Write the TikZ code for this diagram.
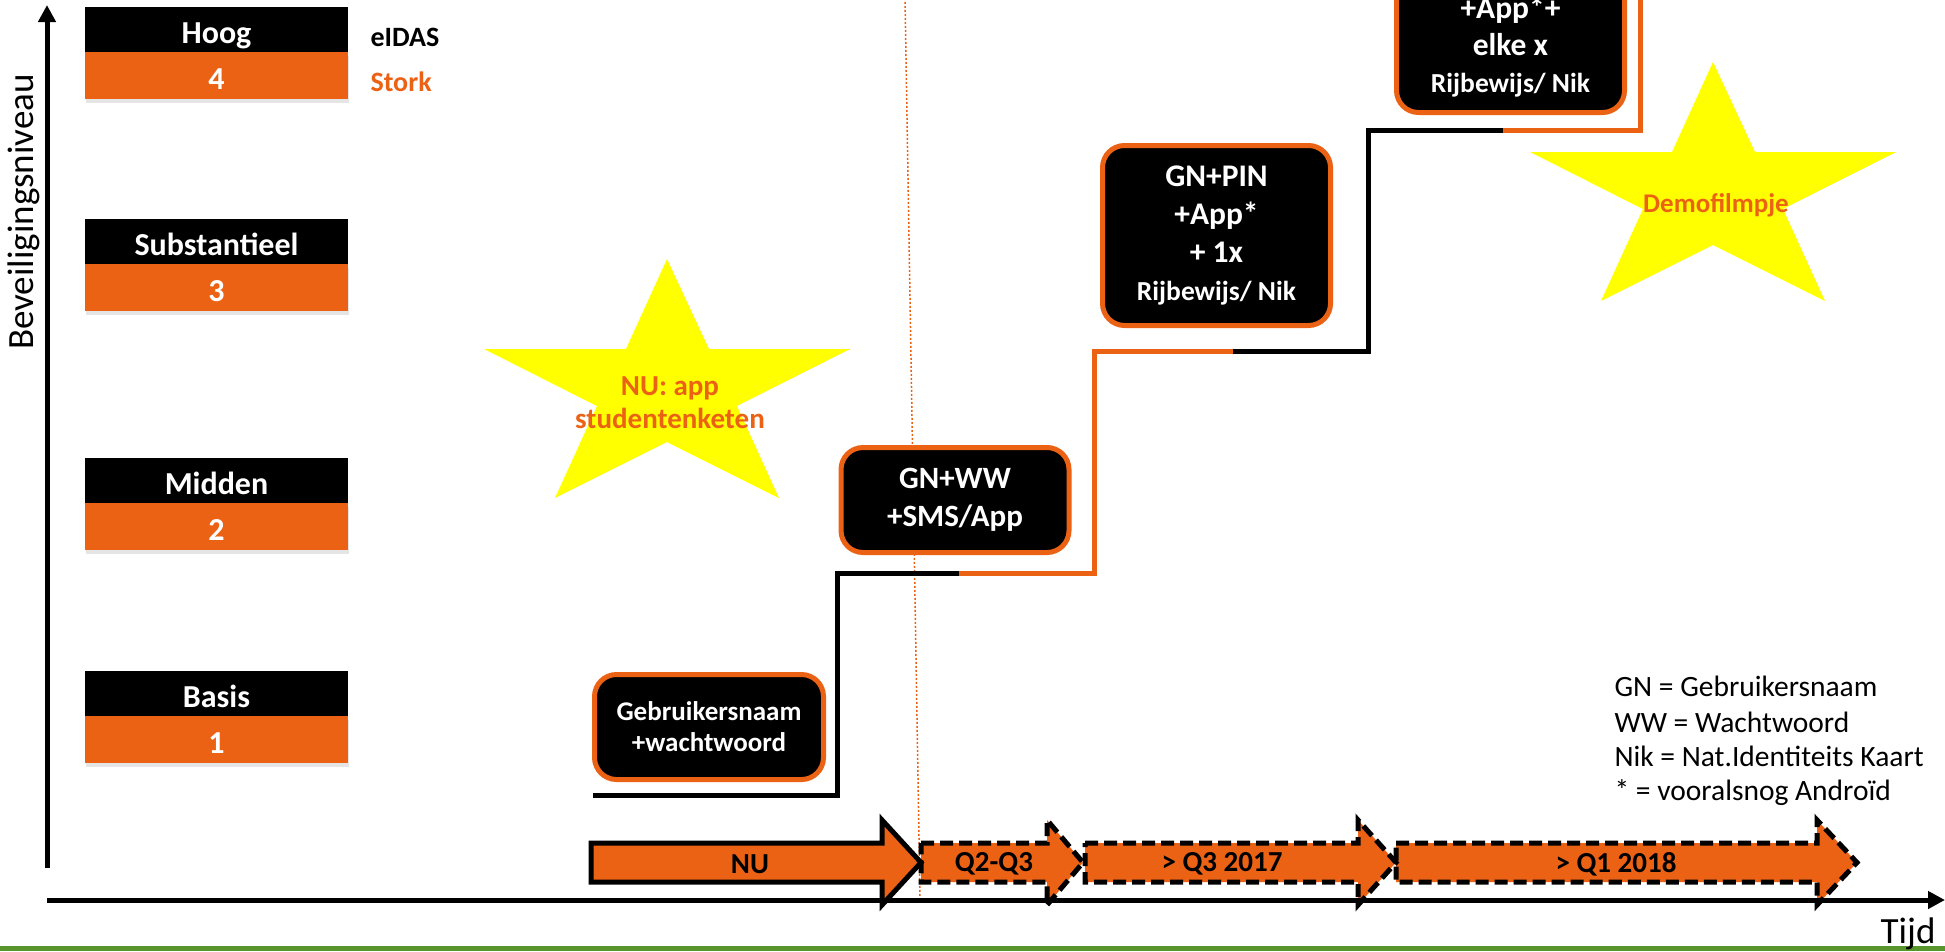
\documentclass[tikz,border=0pt]{standalone}
\usepackage{fontspec}
\setmainfont{Carlito}
\usetikzlibrary{arrows.meta,shadows}
\definecolor{orng}{RGB}{236,98,21}
\definecolor{grn}{RGB}{88,150,44}
\definecolor{staryel}{RGB}{255,255,0}
\newcommand{\fsz}[2]{\fontsize{#1}{#2}\selectfont}
\tikzset{
  lvtop/.style={fill=black, text=white, minimum width=263pt, minimum height=45pt, inner sep=0pt,
     font=\fsz{32}{36}\bfseries, text height=30pt, text depth=2pt},
  lvbot/.style={fill=orng, text=white, minimum width=263pt, minimum height=47pt, inner sep=0pt,
     font=\fsz{32}{36}\bfseries, text height=30pt, text depth=2pt,
     drop shadow={opacity=0.2, shadow xshift=1pt, shadow yshift=-4pt}},
  stepbox/.style={draw=orng, fill=black, line width=5pt, rounded corners=22pt, text=white, align=center, inner sep=0pt},
  axisline/.style={line width=5pt, -{Triangle[length=17pt,width=17pt]}},
  stepline/.style={line width=5pt, line join=miter},
  tlsolid/.style={fill=orng, draw=black, line width=5pt, line join=miter},
  tldash/.style={fill=orng, draw=black, line width=5pt, line join=miter, dash pattern=on 13pt off 6pt},
  tltext/.style={font=\fsz{29}{34}\bfseries, text=black},
  startext/.style={font=\fsz{29}{33}\bfseries, text=orng, align=center},
  legend/.style={font=\fsz{29.5}{34}, anchor=base west},
  bigstar/.pic={
    \fill[staryel] (0,0) -- (42,90) -- (183,90) -- (70,147) -- (112,239) -- (0,183)
      -- (-112,239) -- (-70,147) -- (-183,90) -- (-41,90) -- cycle;
  }
}
\begin{document}
\begin{tikzpicture}[x=1pt,y=-1pt]
\useasboundingbox (0,0) rectangle (1945,951);
\fill[white] (0,0) rectangle (1945,951);
% green bottom bar
\fill[grn] (0,946) rectangle (1945,951);

% dotted orange marker line
\coordinate (dtop) at (905,-2);
\coordinate (dbot) at (920,898);
\draw[orng, line width=1.5pt, dash pattern=on 2pt off 2pt] (dtop) -- (dbot);

% stars
\pic at (667,259) {bigstar};
\pic at (1713,62) {bigstar};
\node[startext] (nustar) at (670,403) {NU: app\\studentenketen};
\node[startext, font=\fsz{27}{33}\bfseries] (demo) at (1716,205) {Demofilmpje};

% level boxes
\node[lvtop] (hoog) at (216.5,29.5) {Hoog};
\node[lvbot, anchor=north] (l4) at (hoog.south) {4};
\node[lvtop] (subst) at (216.5,241.5) {Substantieel};
\node[lvbot, anchor=north] (l3) at (subst.south) {3};
\node[lvtop] (midden) at (216.5,480.5) {Midden};
\node[lvbot, anchor=north] (l2) at (midden.south) {2};
\node[lvtop] (basis) at (216.5,693.5) {Basis};
\node[lvbot, anchor=north] (l1) at (basis.south) {1};
\node[anchor=west, font=\fsz{28}{34}\bfseries] (eidas) at (367,37) {eIDAS};
\node[anchor=west, font=\fsz{28}{34}\bfseries, text=orng] (stork) at (367,82) {Stork};

% step line
\coordinate (s0) at (593,795);
\coordinate (s1) at (837,795);
\coordinate (s2) at (837,573);
\coordinate (s3) at (959,573);
\coordinate (s4) at (1094,573);
\coordinate (s5) at (1094,351);
\coordinate (s6) at (1233,351);
\coordinate (s7) at (1368,351);
\coordinate (s8) at (1368,130);
\coordinate (s9) at (1503,130);
\coordinate (s10) at (1640,130);
\coordinate (s11) at (1640,-6);
\draw[stepline] (s0) -- (s1) -- (s2) -- (s3);
\draw[stepline, orng] (s3) -- (s4) -- (s5) -- (s6);
\draw[stepline] (s6) -- (s7) -- (s8) -- (s9);
\draw[stepline, orng] (s9) -- (s10) -- (s11);

% step boxes
\node[stepbox, minimum width=229pt, minimum height=105pt, font=\fsz{27}{31}\bfseries] (b1) at (709,727)
  {Gebruikersnaam\\+wachtwoord};
\node[stepbox, minimum width=228pt, minimum height=105pt, font=\fsz{31}{38}\bfseries] (b2) at (955,500)
  {GN+WW\\+SMS/App};
\node[stepbox, minimum width=228pt, minimum height=180pt, font=\fsz{31.5}{38}\bfseries] (b3) at (1216.5,235.5)
  {GN+PIN\\+App*\\+ 1x\\{\fsz{27.5}{38}Rijbewijs/ Nik}};
\node[stepbox, minimum width=228pt, minimum height=180pt] (b4) at (1510.5,22.5) {};
\node[font=\fsz{31.5}{37}\bfseries, text=white, align=center] (b4text) at (1510.5,47)
  {+App*+\\elke x\\{\fsz{27.5}{37}Rijbewijs/ Nik}};

% timeline arrows
\draw[tldash] (1396,843) -- (1817,843) -- (1817,820) -- (1857,862.5) -- (1817,905) -- (1817,882) -- (1396,882) -- cycle;
\draw[tldash] (1085,843) -- (1358,843) -- (1358,820) -- (1396,862.5) -- (1358,905) -- (1358,882) -- (1085,882) -- cycle;
\draw[tldash] (921,843) -- (1047,843) -- (1047,820) -- (1083,862.5) -- (1047,905) -- (1047,882) -- (921,882) -- cycle;
\draw[tlsolid] (591,843) -- (882,843) -- (882,820) -- (921,862.5) -- (882,905) -- (882,882) -- (591,882) -- cycle;
\node[tltext] (tnu) at (750,864) {NU};
\node[tltext] (tq23) at (994,864) {Q2-Q3};
\node[tltext] (tq3) at (1222,864) {> Q3 2017};
\node[tltext] (tq1) at (1616,864) {> Q1 2018};

% axes
\coordinate (ybot) at (47,868);
\coordinate (ytop) at (47,5);
\coordinate (xorig) at (47,900);
\coordinate (xend) at (1945,900);
\draw[axisline] (ybot) -- (ytop);
\draw[axisline] (xorig) -- (xend);
\node[rotate=90, anchor=base, font=\fsz{37}{40}] (ylab) at (33,212) {Beveiligingsniveau};
\node[anchor=base east, font=\fsz{37}{40}] (xlab) at (1939,943) {Tijd};

% legend
\node[legend] (leg1) at (1611,696) {GN = Gebruikersnaam};
\node[legend] (leg2) at (1611,732) {WW = Wachtwoord};
\node[legend] (leg3) at (1611,766) {Nik = Nat.Identiteits Kaart};
\node[legend] (leg4) at (1611,800) {* = vooralsnog Androïd};
\end{tikzpicture}
\end{document}
